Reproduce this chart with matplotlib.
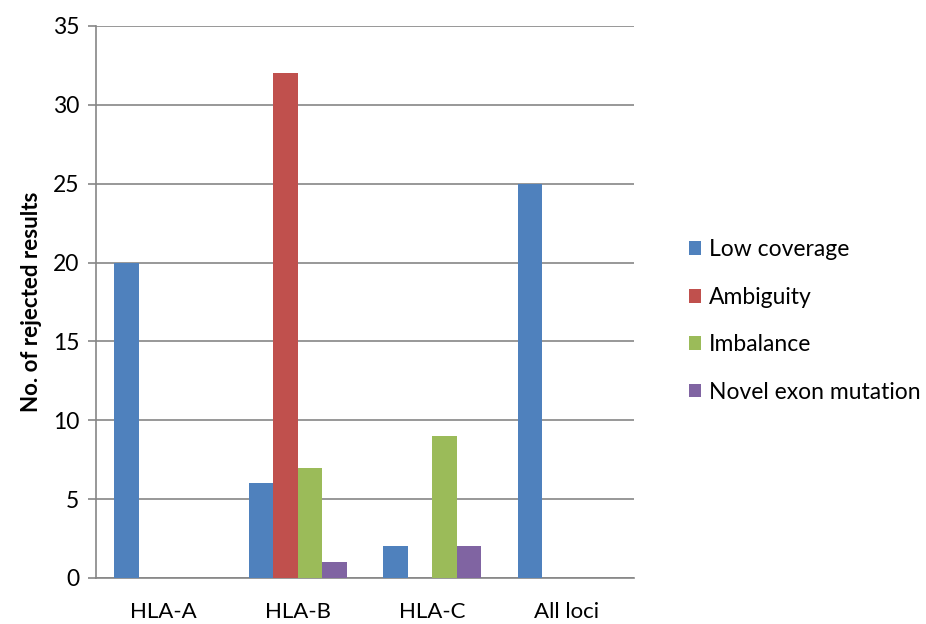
import numpy as np
import matplotlib.pyplot as plt
from matplotlib.patches import Patch

plt.rcParams['font.family'] = ['Lato', 'DejaVu Sans']

loci = ['HLA-A', 'HLA-B', 'HLA-C', 'All loci']
series = ['Low coverage', 'Ambiguity', 'Imbalance', 'Novel exon mutation']
low_coverage = [20, 6, 2, 25]
ambiguity = [0, 32, 0, 0]
imbalance = [0, 7, 9, 0]
novel_exon = [0, 1, 2, 0]
colors = ['#4F81BD', '#C0504D', '#9BBB59', '#8064A2']

values = [low_coverage, ambiguity, imbalance, novel_exon]

fig = plt.figure(figsize=(9.26, 6.24), dpi=100)
ax = fig.add_axes([96 / 926, 1 - 578 / 624, 538 / 926, 552 / 624])

x = np.arange(len(loci))
w = 0.182
for i, (vals, c) in enumerate(zip(values, colors)):
    ax.bar(x + (i - 1.5) * w, vals, width=w, color=c, zorder=3)

ax.set_xlim(-0.5, 3.5)
ax.set_ylim(0, 35)
ax.set_yticks(range(0, 36, 5))
ax.set_xticks(x)
ax.set_xticklabels(loci)
ax.yaxis.grid(True, color='#868686', linewidth=1.2)
ax.set_axisbelow(True)
for s in ['top', 'right']:
    ax.spines[s].set_visible(False)
ax.spines['left'].set_color('#868686')
ax.spines['bottom'].set_color('#868686')
ax.spines['left'].set_linewidth(1.2)
ax.spines['bottom'].set_linewidth(1.2)
ax.tick_params(axis='y', length=6, color='#868686', width=1.2, labelsize=16.5, pad=6)
ax.tick_params(axis='x', length=0, labelsize=16, pad=17)
ax.set_ylabel('No. of rejected results', fontsize=16, fontweight='bold', labelpad=8)

handles = [Patch(facecolor=c) for c in colors]
fig.legend(handles, series, loc='center left', bbox_to_anchor=(668 / 926, 1 - 321 / 624),
           frameon=False, fontsize=16.5, handlelength=0.55, handleheight=0.55,
           handletextpad=0.35, labelspacing=1.15)

fig.savefig('out.png', dpi=100)
